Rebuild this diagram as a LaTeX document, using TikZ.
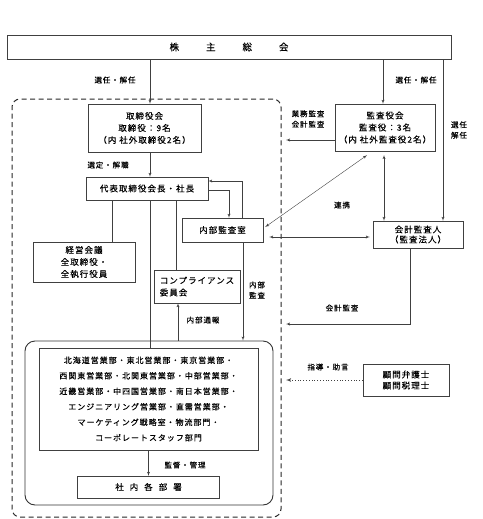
\documentclass[tikz,border=0pt]{standalone}
\usepackage{fontspec}
\setmainfont{Noto Sans CJK JP}[LetterSpace=12, FakeBold=0.2]
\usetikzlibrary{arrows}
\tikzstyle{block} = [rectangle, draw=black!75, fill=white, align=center, inner sep=0pt,
font=\fontsize{8.5}{12}\selectfont]
\tikzstyle{lbl} = [align=center, inner sep=0pt, font=\fontsize{7.5}{10.5}\selectfont]
\tikzstyle{line} = [draw=black!75]
\tikzstyle{pijltje} = [draw=black!75, -latex']
\tikzstyle{dubbel} = [draw=black!75, latex'-latex']
\tikzstyle{stippel} = [draw=black!75, dotted, thick, -latex']
\tikzstyle{groep} = [draw=black!85, dashed, line width=1pt, dash pattern=on 5pt off 3.5pt,
rounded corners=8pt]

\begin{document}
\begin{tikzpicture}[x=1pt, y=-1pt]
	\useasboundingbox (0,0) rectangle (482,519);
	
	\node [groep, minimum width=269pt, minimum height=418pt] (group) at (146.5,308) {};
	\node [draw=black!80, line width=0.9pt, rounded corners=10pt, minimum width=248pt, minimum height=164pt] (outer) at (149,423) {};
	
	\coordinate (k112) at (112,0);
	\coordinate (k150) at (150,0);
	\coordinate (k176) at (176,0);
	\coordinate (k178) at (178,0);
	\coordinate (k229) at (229,0);
	\coordinate (k242) at (242,0);
	\coordinate (k243) at (243,0);
	\coordinate (k383) at (383,0);
	\coordinate (k384) at (384,0);
	\coordinate (k410) at (410,0);
	\coordinate (k443) at (443,0);
	\coordinate (gr) at (286,0);
	\coordinate (r140) at (0,140);
	\coordinate (r155) at (0,155);
	\coordinate (r181) at (0,181);
	\coordinate (r190) at (0,190);
	\coordinate (r237) at (0,237);
	\coordinate (r324) at (0,324);
	
	\node [block, minimum width=444pt, minimum height=24pt, font=\fontsize{9.5}{12}\selectfont] (shareholders) at (229,47) {株\hspace{27pt}主\hspace{27pt}総\hspace{27pt}会};
	\node [block, minimum width=113pt, minimum height=48pt] (board) at (144.5,128) {取締役会\\取締役：9名\\（内 社外取締役2名）};
	\node [block, minimum width=100pt, minimum height=47pt] (kansayaku) at (385,127.5) {監査役会\\監査役：3名\\（内 社外監査役2名）};
	\node [block, minimum width=122pt, minimum height=23pt] (ceo) at (147,188.5) {代表取締役会長・社長};
	\node [block, minimum width=81pt, minimum height=24pt] (audit) at (222.5,230) {内部監査室};
	\node [block, minimum width=90pt, minimum height=27pt, font=\fontsize{8.5}{10}\selectfont] (auditor) at (418,234.5) {会計監査人\\（監査法人）};
	\node [block, minimum width=102pt, minimum height=40pt] (mgmt) at (84,262) {経営会議\\全取締役・\\全執行役員};
	\node [block, minimum width=86pt, minimum height=33pt, align=left] (compliance) at (197,286.5) {コンプライアンス\\委員会};
	\node [block, minimum width=86pt, minimum height=32pt, font=\fontsize{8.5}{11}\selectfont] (advisors) at (406,380) {顧問弁護士\\顧問税理士};
	\node [block, minimum width=219pt, minimum height=102pt, font=\fontsize{8}{15.5}\selectfont] (depts) at (148.5,399) {北海道営業部・東北営業部・東京営業部・\\西関東営業部・北関東営業部・中部営業部・\\近畿営業部・中四国営業部・南日本営業部・\\エンジニアリング営業部・直需営業部・\\マーケティング戦略室・物流部門・\\コーポレートスタッフ部門};
	\node [block, minimum width=142pt, minimum height=22pt] (units) at (148.5,487) {社\hspace{6pt}内\hspace{6pt}各\hspace{6pt}部\hspace{6pt}署};
	
	
	\path [pijltje] (shareholders.south -| k150) -- (board.north -| k150);
	\path [pijltje] (shareholders.south -| k383) -- (kansayaku.north -| k383);
	\path [pijltje] (shareholders.south -| k443) -- (auditor.north -| k443);
	\path [pijltje] (board.south -| k150) -- (ceo.north -| k150);
	\path [line] (ceo.south -| k112) -- (mgmt.north -| k112);
	\path [line] (ceo.south -| k150) -- (depts.north -| k150);
	\path [line] (ceo.south -| k176) -- (compliance.north -| k176);
	\path [pijltje] (outer.north -| k178) -- (compliance.south -| k178);
	\path [pijltje] (ceo.east |- r190) -| (audit.north -| k229);
	\path [pijltje] (audit.north -| k242) |- (ceo.east |- r181);
	\path [pijltje] (audit.south -| k243) -- (outer.north -| k243);
	\path [pijltje] (depts.south) -- (units.north);
	
	
	\path [pijltje] (kansayaku.west |- r140) -- (gr |- r140);
	\path [dubbel] ([xshift=-18pt,yshift=-4pt]kansayaku.south) -- ([xshift=2pt,yshift=3pt]audit.east);
	\path [dubbel] (k384 |- r155) -- (auditor.north -| k384);
	\path [dubbel, shorten <=6pt, shorten >=3pt] (audit.east |- r237) -- (auditor.west |- r237);
	\path [pijltje] (auditor.south -| k410) |- (gr |- r324);
	\path [stippel] (advisors.west) -- (advisors.west -| gr);
	
	
	\node [lbl] (elect1) at (115,80) {選任・解任};
	\node [lbl] (elect2) at (416,80) {選任・解任};
	\node [lbl] (elect3) at (459,130) {選任\\解任};
	\node [lbl] (auditlabel) at (308,119) {業務監査\\会計監査};
	\node [lbl] (selectlabel) at (108,165) {選定・解職};
	\node [lbl] (linklabel) at (342,205) {連携};
	\node [lbl] (internallabel) at (257,290) {内部\\監査};
	\node [lbl] (reportlabel) at (203,320) {内部通報};
	\node [lbl] (accountlabel) at (342,308) {会計監査};
	\node [lbl] (advicelabel) at (328,367) {指導・助言};
	\node [lbl] (supervlabel) at (185,465) {監督・管理};
\end{tikzpicture}
\end{document}
